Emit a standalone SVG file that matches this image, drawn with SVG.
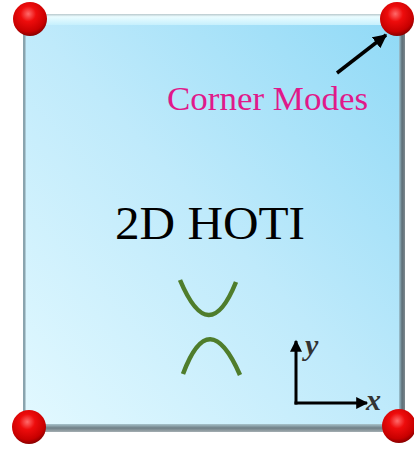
<svg xmlns="http://www.w3.org/2000/svg" width="414" height="449" viewBox="0 0 414 449">
<defs>
<linearGradient id="face" x1="0" y1="1" x2="1" y2="0">
<stop offset="0" stop-color="#e3f9ff"/>
<stop offset="0.5" stop-color="#bfeafb"/>
<stop offset="1" stop-color="#8fd9f6"/>
</linearGradient>
<linearGradient id="topbev" x1="0" y1="0" x2="0" y2="1">
<stop offset="0" stop-color="#b8c8cc"/>
<stop offset="0.25" stop-color="#eafcff"/>
<stop offset="1" stop-color="#c6f0fd"/>
</linearGradient>
<linearGradient id="rightbev" x1="0" y1="0" x2="1" y2="0">
<stop offset="0" stop-color="#9fc6d4"/>
<stop offset="0.5" stop-color="#5d6f78"/>
<stop offset="1" stop-color="#7a868c"/>
</linearGradient>
<linearGradient id="botbev" x1="0" y1="0" x2="0" y2="1">
<stop offset="0" stop-color="#a8c4cc"/>
<stop offset="0.5" stop-color="#6f7f86"/>
<stop offset="1" stop-color="#a4aeb2"/>
</linearGradient>
<radialGradient id="ball" cx="0.45" cy="0.35" r="0.65">
<stop offset="0" stop-color="#ff6a6a"/>
<stop offset="0.35" stop-color="#ee0c0c"/>
<stop offset="0.8" stop-color="#c80000"/>
<stop offset="1" stop-color="#8a0000"/>
</radialGradient>
<marker id="ah" viewBox="0 0 10 10" refX="9" refY="5" markerWidth="4" markerHeight="4" orient="auto" markerUnits="strokeWidth">
<path d="M0,0 L10,5 L0,10 z" fill="#000"/>
</marker>
<marker id="ah2" viewBox="0 0 10 10" refX="9" refY="5" markerWidth="4.5" markerHeight="4" orient="auto" markerUnits="strokeWidth">
<path d="M0,0 L10,5 L0,10 z" fill="#000"/>
</marker>
<style>
.curve{fill:none;stroke:#4f7d2c;stroke-width:4.5;stroke-linecap:butt}
.ax{stroke:#000;stroke-width:3;fill:none}
</style>
</defs>
<g id="panel">
<rect x="23" y="14" width="382" height="418" fill="url(#face)"/>
<rect x="23" y="14" width="380" height="11" fill="url(#topbev)"/>
<rect x="23" y="14" width="2.5" height="416" fill="#8aa4ae"/>
<rect x="399" y="14" width="6" height="418" fill="url(#rightbev)"/>
<rect x="23" y="424" width="382" height="8" fill="url(#botbev)"/>
</g>
<g id="corners">
<circle id="c-tl" cx="30" cy="19" r="17" fill="url(#ball)"/>
<circle id="c-tr" cx="397" cy="19" r="17" fill="url(#ball)"/>
<circle id="c-bl" cx="29" cy="427" r="17" fill="url(#ball)"/>
<circle id="c-br" cx="399" cy="426" r="17" fill="url(#ball)"/>
</g>
<g id="title">
<text x="115" y="239" font-family="'Liberation Serif', 'DejaVu Serif', serif" font-size="46" textLength="190" lengthAdjust="spacingAndGlyphs" fill="#000">2D HOTI</text>
</g>
<g id="label-corner">
<text x="167" y="110" font-family="'Liberation Serif', 'DejaVu Serif', serif" font-size="33" textLength="201" lengthAdjust="spacingAndGlyphs" fill="#e0198a">Corner Modes</text>
</g>
<g id="bands">
<path class="curve" d="M180,280 Q209,349 236,282"/>
<path class="curve" d="M183,374 Q209,304 240,375"/>
</g>
<g id="axes">
<line class="ax" x1="296" y1="404.5" x2="296" y2="341" marker-end="url(#ah2)"/>
<line class="ax" x1="294.5" y1="403" x2="367" y2="403" marker-end="url(#ah2)"/>
<text x="305" y="355" font-family="'Liberation Serif', 'DejaVu Serif', serif" font-size="30" font-style="italic" font-weight="bold" fill="#333">y</text>
<text x="366" y="410" font-family="'Liberation Serif', 'DejaVu Serif', serif" font-size="30" font-style="italic" font-weight="bold" fill="#333">x</text>
</g>
<g id="connectors">
<line x1="337" y1="73" x2="386" y2="35" stroke="#000" stroke-width="3.5" marker-end="url(#ah)"/>
</g>
</svg>
